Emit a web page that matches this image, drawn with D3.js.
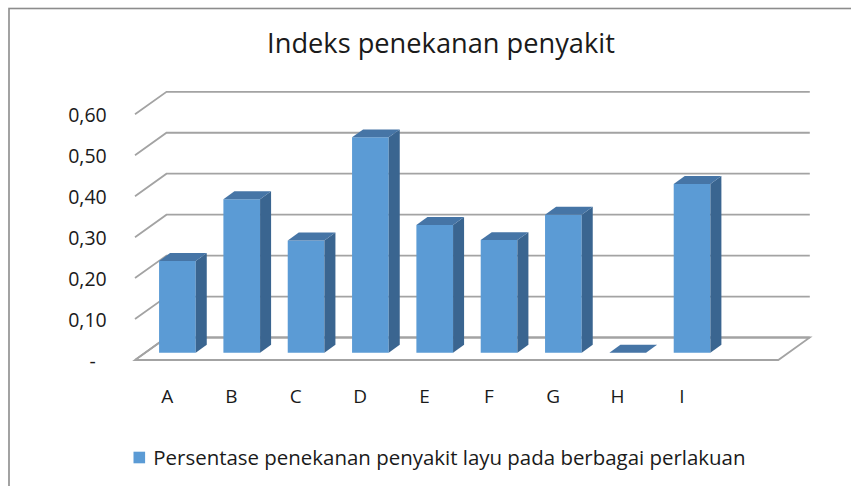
<!DOCTYPE html>
<html>
<head>
<meta charset="utf-8">
<script src="https://cdn.jsdelivr.net/npm/d3@7"></script>
<style>
  html, body { margin: 0; padding: 0; background: #fff; }
  svg { display: block; }
  text { font-family: "Open Sans", "Noto Sans", sans-serif; fill: #1a1a1a; }
</style>
</head>
<body>
<svg id="chart" width="851" height="486"></svg>
<script>
// Chart data
const chartTitle = "Indeks penekanan penyakit";
const seriesName = "Persentase penekanan penyakit layu pada berbagai perlakuan";
const categories = ["A", "B", "C", "D", "E", "F", "G", "H", "I"];
const values = [0.224, 0.375, 0.274, 0.526, 0.312, 0.275, 0.337, 0.0, 0.412];
const yTicks = [0, 0.1, 0.2, 0.3, 0.4, 0.5, 0.6];
const yTickLabels = ["-", "0,10", "0,20", "0,30", "0,40", "0,50", "0,60"];

const colors = { front: "#5b9bd5", top: "#4675a6", side: "#3a6590", grid: "#a3a3a3", frame: "#8c8c8c" };

const svg = d3.select("#chart");

// Outer frame of the chart area
svg.append("rect")
  .attr("x", 9).attr("y", 8.5).attr("width", 900).attr("height", 520)
  .attr("fill", "#fff").attr("stroke", colors.frame).attr("stroke-width", 1.6);

// Front plane of the 3D plot and the oblique depth vector
const floorLeft = 135, floorRight = 778.3;
const depthX = 31.5, depthY = -22.5;
const barDepth0 = 0.325, barDepth1 = 0.675;

// One empty slot after the last category, as in the source workbook
const slots = [...categories, " "];
const pad = 0.43;
const x = d3.scaleBand().domain(slots).range([floorLeft, floorRight])
  .paddingInner(pad).paddingOuter(pad / 2);
const y = d3.scaleLinear().domain([0, 0.6]).range([360, 114.3]);

const P = (px, v, d) => [px + d * depthX, y(v) + d * depthY];
const poly = pts => pts.map(p => p.join(",")).join(" ");

// Side wall diagonals and back wall gridlines
const grid = svg.append("g").attr("fill", "none").attr("stroke", colors.grid).attr("stroke-width", 1.8);
grid.selectAll("polyline").data(yTicks).join("polyline")
  .attr("points", t => poly([P(floorLeft, t, 0), P(floorLeft, t, 1), P(floorRight, t, 1)]));

// Floor outline
grid.append("polygon")
  .attr("points", poly([P(floorLeft, 0, 0), P(floorRight, 0, 0), P(floorRight, 0, 1), P(floorLeft, 0, 1)]));

// 3D columns
const bars = svg.append("g").selectAll("g")
  .data(categories.map((c, i) => ({ c, v: values[i] })))
  .join("g");

bars.append("polygon") // front face
  .attr("fill", colors.front)
  .attr("points", d => {
    const xl = x(d.c), xr = xl + x.bandwidth();
    return poly([P(xl, d.v, barDepth0), P(xr, d.v, barDepth0), P(xr, 0, barDepth0), P(xl, 0, barDepth0)]);
  });
bars.append("polygon") // right side
  .attr("fill", colors.side)
  .attr("points", d => {
    const xr = x(d.c) + x.bandwidth();
    return poly([P(xr, d.v, barDepth0), P(xr, d.v, barDepth1), P(xr, 0, barDepth1), P(xr, 0, barDepth0)]);
  });
bars.append("polygon") // top
  .attr("fill", colors.top)
  .attr("points", d => {
    const xl = x(d.c), xr = xl + x.bandwidth();
    return poly([P(xl, d.v, barDepth0), P(xr, d.v, barDepth0), P(xr, d.v, barDepth1), P(xl, d.v, barDepth1)]);
  });

// Value axis labels
const yAxis = d3.axisLeft(y).tickValues(yTicks).tickSize(0).tickPadding(0)
  .tickFormat((t, i) => yTickLabels[i]);
const yAxisG = svg.append("g").attr("transform", "translate(106.7,0)").call(yAxis);
yAxisG.select(".domain").remove();
yAxisG.selectAll("text")
  .attr("font-family", "'Open Sans', sans-serif").attr("font-size", 19.5).attr("fill", "#1a1a1a")
  .attr("dy", "0.38em")
  .attr("dx", t => t === 0 ? -11 : 0);

// Category axis labels
const xAxis = d3.axisBottom(x).tickSize(0).tickPadding(0);
const xAxisG = svg.append("g").attr("transform", "translate(0,402.7)").call(xAxis);
xAxisG.select(".domain").remove();
xAxisG.selectAll("text")
  .attr("font-family", "'Open Sans', sans-serif").attr("font-size", 19).attr("fill", "#1a1a1a")
  .attr("dy", 0).attr("y", 0);

// Title, scaled to its set width
function fitWidth(sel, target) {
  const fs = parseFloat(sel.attr("font-size"));
  const w = sel.node().getComputedTextLength();
  sel.attr("font-size", fs * target / w);
}
const title = svg.append("text")
  .attr("x", 441).attr("y", 53).attr("text-anchor", "middle")
  .attr("font-size", 25).attr("fill", "#111").text(chartTitle);
fitWidth(title, 348);

// Legend
svg.append("rect").attr("x", 133.5).attr("y", 451.7).attr("width", 11.6).attr("height", 11.6)
  .attr("fill", colors.front);
const legendText = svg.append("text")
  .attr("x", 153.3).attr("y", 465).attr("font-size", 19).attr("fill", "#1a1a1a").text(seriesName);
fitWidth(legendText, 592.7);
</script>
</body>
</html>
